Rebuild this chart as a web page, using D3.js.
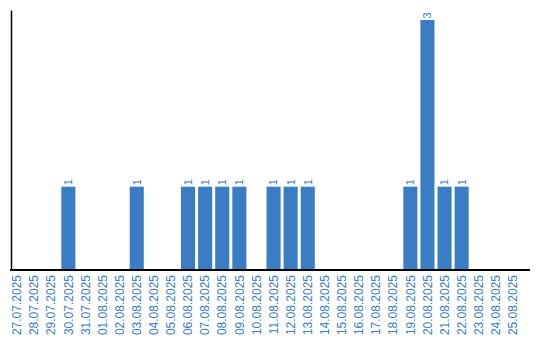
<!DOCTYPE html>
<html>
<head>
<meta charset="utf-8">
<script src="https://cdn.jsdelivr.net/npm/d3@7"></script>
<style>
  body { margin: 0; background: #fff; }
  svg { display: block; font-family: Arial, "Liberation Sans", sans-serif; }
</style>
</head>
<body>
<svg id="chart" width="540" height="340"></svg>
<script>
const dates = ['27.07.2025', '28.07.2025', '29.07.2025', '30.07.2025', '31.07.2025',
    '01.08.2025', '02.08.2025', '03.08.2025', '04.08.2025', '05.08.2025',
    '06.08.2025', '07.08.2025', '08.08.2025', '09.08.2025', '10.08.2025',
    '11.08.2025', '12.08.2025', '13.08.2025', '14.08.2025', '15.08.2025',
    '16.08.2025', '17.08.2025', '18.08.2025', '19.08.2025', '20.08.2025',
    '21.08.2025', '22.08.2025', '23.08.2025', '24.08.2025', '25.08.2025'];
const counts = [0, 0, 0, 1, 0, 0, 0, 1, 0, 0, 1, 1, 1, 1, 0, 1, 1, 1, 0, 0, 0, 0, 0, 1, 3, 1, 1, 0, 0, 0];

const barColor = '#3b7dc4';
const marginLeft = 10, plotRight = 530, plotTop = 10, baseline = 270;

const svg = d3.select('#chart');

// 30 bands of 17px, the last 10px are empty space at the right
const x = d3.scaleBand()
    .domain(dates)
    .range([marginLeft, marginLeft + dates.length * 17])
    .paddingInner(3 / 17)
    .paddingOuter(0)
    .align(0);

const y = d3.scaleLinear()
    .domain([0, 3.12])
    .range([baseline, plotTop]);

const data = dates.map((d, i) => ({ date: d, value: counts[i] }));

svg.selectAll('.bar')
    .data(data.filter(d => d.value > 0))
    .enter()
    .append('rect')
    .attr('class', 'bar')
    .attr('x', d => x(d.date))
    .attr('y', d => y(d.value))
    .attr('width', x.bandwidth())
    .attr('height', d => baseline - y(d.value))
    .attr('fill', barColor);

svg.selectAll('.val')
    .data(data.filter(d => d.value > 0))
    .enter()
    .append('text')
    .attr('class', 'val')
    .attr('transform', d => `translate(${x(d.date) + x.bandwidth() / 2}, ${y(d.value) - 1.5}) rotate(-90)`)
    .attr('dy', '0.35em')
    .style('font-size', '11px')
    .style('fill', barColor)
    .text(d => d.value);

// x axis
const xAxis = svg.append('g')
    .attr('transform', `translate(0, ${baseline})`)
    .call(d3.axisBottom(x).tickSize(0).tickSizeOuter(0));
xAxis.select('.domain').remove();
xAxis.selectAll('text')
    .attr('x', -5)
    .attr('y', 0)
    .attr('dy', '0.35em')
    .attr('transform', 'rotate(-90)')
    .style('text-anchor', 'end')
    .style('font-size', '12px')
    .style('font-family', 'Arial, "Liberation Sans", sans-serif')
    .style('fill', barColor);

svg.append('line')
    .attr('x1', marginLeft).attr('x2', plotRight)
    .attr('y1', baseline).attr('y2', baseline)
    .attr('stroke', '#000')
    .attr('stroke-width', 2);

// y axis, no ticks
const yAxis = svg.append('g')
    .attr('transform', `translate(${marginLeft + 1}, 0)`)
    .call(d3.axisLeft(y).tickValues([]).tickSizeOuter(0));
yAxis.select('.domain')
    .attr('stroke', '#000')
    .attr('stroke-width', 1.5);
</script>
</body>
</html>
